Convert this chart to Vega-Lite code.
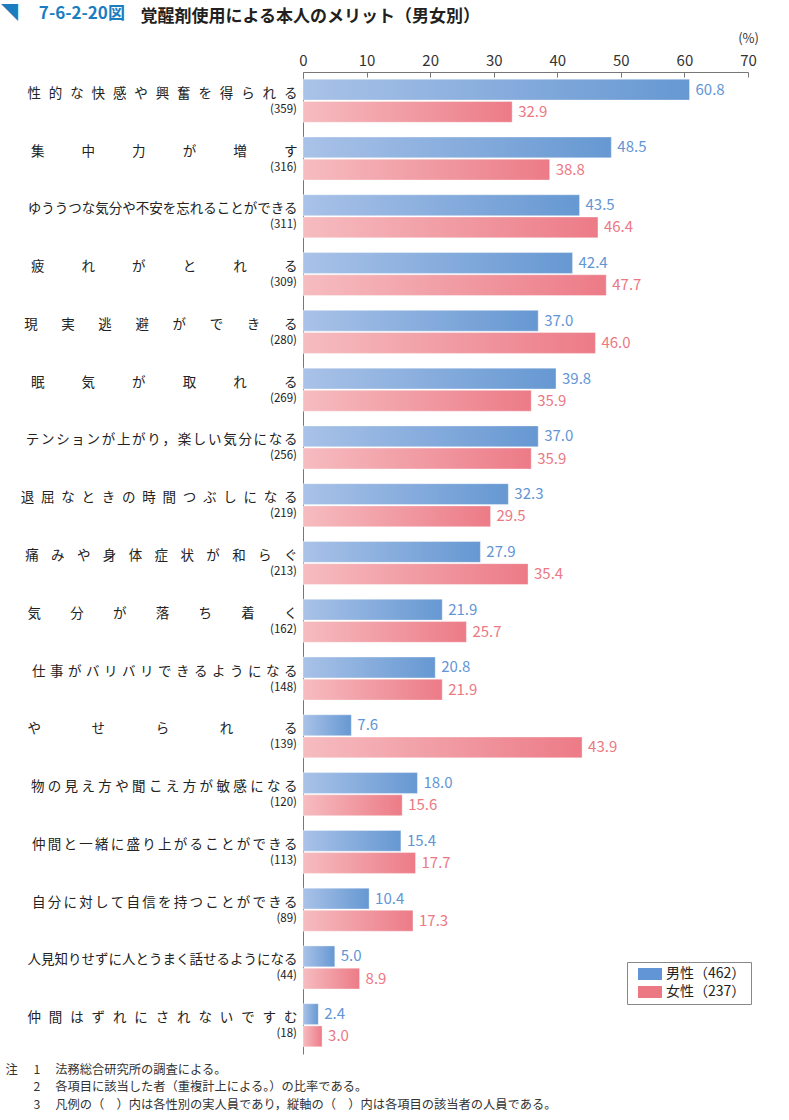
{
  "$schema": "https://vega.github.io/schema/vega-lite/v6.json",
  "width": 445,
  "height": 982,
  "autosize": {"type": "none"},
  "padding": {"left": 303, "top": 72, "right": 41, "bottom": 66},
  "background": "white",
  "config": {
    "view": {"stroke": null},
    "font": "Noto Sans CJK JP",
    "axisY": {
      "ticks": false, "domain": true, "domainColor": "#777777", "domainWidth": 1,
      "labelPadding": 6, "labelLimit": 400, "labelOffset": -7,
      "labelFontSize": 13.5, "labelColor": "#222222", "labelFont": "Noto Sans CJK JP",
      "grid": false
    }
  },
  "title": {
    "text": "◥\u3000 7-6-2-20図",
    "anchor": "start",
    "frame": "group",
    "color": "#1a7dc0",
    "fontSize": 17,
    "fontWeight": "bold",
    "font": "Noto Sans CJK JP",
    "dx": -302,
    "dy": 16,
    "offset": 0
  },
  "data": {
    "values": [
      {"item": "性的な快感や興奮を得られる", "n": 359, "sex": "男性（462）", "pct": 60.8},
      {"item": "性的な快感や興奮を得られる", "n": 359, "sex": "女性（237）", "pct": 32.9},
      {"item": "集中力が増す", "n": 316, "sex": "男性（462）", "pct": 48.5},
      {"item": "集中力が増す", "n": 316, "sex": "女性（237）", "pct": 38.8},
      {"item": "ゆううつな気分や不安を忘れることができる", "n": 311, "sex": "男性（462）", "pct": 43.5},
      {"item": "ゆううつな気分や不安を忘れることができる", "n": 311, "sex": "女性（237）", "pct": 46.4},
      {"item": "疲れがとれる", "n": 309, "sex": "男性（462）", "pct": 42.4},
      {"item": "疲れがとれる", "n": 309, "sex": "女性（237）", "pct": 47.7},
      {"item": "現実逃避ができる", "n": 280, "sex": "男性（462）", "pct": 37.0},
      {"item": "現実逃避ができる", "n": 280, "sex": "女性（237）", "pct": 46.0},
      {"item": "眠気が取れる", "n": 269, "sex": "男性（462）", "pct": 39.8},
      {"item": "眠気が取れる", "n": 269, "sex": "女性（237）", "pct": 35.9},
      {"item": "テンションが上がり，楽しい気分になる", "n": 256, "sex": "男性（462）", "pct": 37.0},
      {"item": "テンションが上がり，楽しい気分になる", "n": 256, "sex": "女性（237）", "pct": 35.9},
      {"item": "退屈なときの時間つぶしになる", "n": 219, "sex": "男性（462）", "pct": 32.3},
      {"item": "退屈なときの時間つぶしになる", "n": 219, "sex": "女性（237）", "pct": 29.5},
      {"item": "痛みや身体症状が和らぐ", "n": 213, "sex": "男性（462）", "pct": 27.9},
      {"item": "痛みや身体症状が和らぐ", "n": 213, "sex": "女性（237）", "pct": 35.4},
      {"item": "気分が落ち着く", "n": 162, "sex": "男性（462）", "pct": 21.9},
      {"item": "気分が落ち着く", "n": 162, "sex": "女性（237）", "pct": 25.7},
      {"item": "仕事がバリバリできるようになる", "n": 148, "sex": "男性（462）", "pct": 20.8},
      {"item": "仕事がバリバリできるようになる", "n": 148, "sex": "女性（237）", "pct": 21.9},
      {"item": "やせられる", "n": 139, "sex": "男性（462）", "pct": 7.6},
      {"item": "やせられる", "n": 139, "sex": "女性（237）", "pct": 43.9},
      {"item": "物の見え方や聞こえ方が敏感になる", "n": 120, "sex": "男性（462）", "pct": 18.0},
      {"item": "物の見え方や聞こえ方が敏感になる", "n": 120, "sex": "女性（237）", "pct": 15.6},
      {"item": "仲間と一緒に盛り上がることができる", "n": 113, "sex": "男性（462）", "pct": 15.4},
      {"item": "仲間と一緒に盛り上がることができる", "n": 113, "sex": "女性（237）", "pct": 17.7},
      {"item": "自分に対して自信を持つことができる", "n": 89, "sex": "男性（462）", "pct": 10.4},
      {"item": "自分に対して自信を持つことができる", "n": 89, "sex": "女性（237）", "pct": 17.3},
      {"item": "人見知りせずに人とうまく話せるようになる", "n": 44, "sex": "男性（462）", "pct": 5.0},
      {"item": "人見知りせずに人とうまく話せるようになる", "n": 44, "sex": "女性（237）", "pct": 8.9},
      {"item": "仲間はずれにされないですむ", "n": 18, "sex": "男性（462）", "pct": 2.4},
      {"item": "仲間はずれにされないですむ", "n": 18, "sex": "女性（237）", "pct": 3.0}
    ]
  },
  "resolve": {"axis": {"x": "independent"}},
  "layer": [
    {
      "transform": [{"filter": "datum.sex == '男性（462）'"}],
      "mark": {
        "type": "bar", "stroke": "#ffffff", "strokeWidth": 0.6, "strokeOpacity": 0.6,
        "color": {"gradient": "linear", "x1": 0, "y1": 0, "x2": 1, "y2": 0, "stops": [{"offset": 0, "color": "#a9c2e8"}, {"offset": 1, "color": "#6698d2"}]}
      },
      "encoding": {
        "y": {
          "field": "item", "type": "nominal", "sort": null,
          "scale": {"paddingInner": 0.255, "paddingOuter": 0.125},
          "axis": {
            "title": "覚醒剤使用による本人のメリット（男女別）",
            "titleAngle": 0, "titleX": -163, "titleY": -51,
            "titleAlign": "left", "titleBaseline": "alphabetic",
            "titleFontSize": 17, "titleFontWeight": "bold", "titleColor": "#231f20",
            "titleFont": "Noto Sans CJK JP", "titleLimit": 600,
            "labelExpr": "join(split(datum.label, ''), length(datum.label) == 5 ? '\u3000\u3000\u3000\u2002\u2005' : length(datum.label) == 6 ? '\u3000\u3000\u2002\u2005' : length(datum.label) == 7 ? '\u3000\u3000\u2006' : length(datum.label) == 8 ? '\u3000\u2002\u2005' : length(datum.label) == 11 ? '\u2002\u2005\u2006' : length(datum.label) == 13 ? '\u2005\u2004' : length(datum.label) == 14 ? '\u2002' : length(datum.label) == 15 ? '\u2004' : length(datum.label) == 16 ? '\u2005' : length(datum.label) == 17 ? '\u2006' : length(datum.label) == 18 ? '\u200A\u200A' : '')"
          }
        },
        "yOffset": {"field": "sex", "type": "nominal", "sort": ["男性（462）", "女性（237）"], "scale": {"domain": ["男性（462）", "女性（237）"], "paddingInner": 0.06}},
        "x": {
          "field": "pct", "type": "quantitative",
          "scale": {"domain": [0, 70], "nice": false},
          "axis": {
            "orient": "top", "values": [0, 10, 20, 30, 40, 50, 60, 70],
            "grid": false, "domainColor": "#777777", "tickColor": "#777777",
            "tickSize": -5, "labelPadding": 9, "labelFontSize": 15, "labelColor": "#333333",
            "labelFont": "Noto Sans CJK JP", "labelFlush": false,
            "title": "(%)", "titleX": 445, "titleY": -30, "titleAlign": "center",
            "titleBaseline": "alphabetic", "titleFontSize": 13, "titleFontWeight": "normal",
            "titleColor": "#333333", "titleFont": "Noto Sans CJK JP"
          }
        }
      }
    },
    {
      "transform": [{"filter": "datum.sex == '女性（237）'"}],
      "mark": {
        "type": "bar", "stroke": "#ffffff", "strokeWidth": 0.6, "strokeOpacity": 0.6,
        "color": {"gradient": "linear", "x1": 0, "y1": 0, "x2": 1, "y2": 0, "stops": [{"offset": 0, "color": "#f6bcc0"}, {"offset": 1, "color": "#ec7b87"}]}
      },
      "encoding": {
        "y": {"field": "item", "type": "nominal", "sort": null},
        "yOffset": {"field": "sex", "type": "nominal", "sort": ["男性（462）", "女性（237）"]},
        "x": {"field": "pct", "type": "quantitative", "axis": null}
      }
    },
    {
      "mark": {"type": "text", "align": "left", "baseline": "middle", "dx": 6, "fontSize": 15, "font": "Noto Sans CJK JP"},
      "encoding": {
        "y": {"field": "item", "type": "nominal", "sort": null},
        "yOffset": {"field": "sex", "type": "nominal", "sort": ["男性（462）", "女性（237）"]},
        "x": {
          "field": "pct", "type": "quantitative",
          "axis": {
            "orient": "bottom", "domain": false, "ticks": false, "labels": false, "grid": false,
            "title": "注", "titleX": -298, "titleY": 19, "titleAlign": "left", "titleAnchor": "start",
            "titleBaseline": "alphabetic", "titleFontSize": 12.25, "titleFontWeight": "normal",
            "titleColor": "#333333", "titleFont": "Noto Sans CJK JP"
          }
        },
        "text": {"field": "pct", "type": "quantitative", "format": ".1f"},
        "fill": {
          "field": "sex", "type": "nominal",
          "scale": {"domain": ["男性（462）", "女性（237）"], "range": ["#6195d6", "#ec7884"]},
          "legend": {
            "orient": "none", "legendX": 324, "legendY": 890, "direction": "vertical",
            "title": null, "padding": 5, "strokeColor": "#888888", "fillColor": "#ffffff",
            "symbolType": "M-2,-1H2V1H-2Z", "symbolSize": 144, "symbolStrokeWidth": 0,
            "symbolOffset": 11, "labelOffset": 9, "rowPadding": 4,
            "labelFontSize": 14, "labelFont": "Noto Sans CJK JP", "labelColor": "#222222",
            "labelLimit": 300
          }
        }
      }
    },
    {
      "transform": [
        {"filter": "datum.sex == '男性（462）'"},
        {"calculate": "'(' + datum.n + ')'", "as": "nlab"}
      ],
      "mark": {"type": "text", "align": "right", "baseline": "middle", "dx": -6, "dy": 9, "fontSize": 11.5, "color": "#222222", "font": "Noto Sans CJK JP"},
      "encoding": {
        "y": {"field": "item", "type": "nominal", "sort": null},
        "x": {
          "datum": 0, "type": "quantitative",
          "axis": {
            "orient": "bottom", "domain": false, "ticks": false, "labels": false, "grid": false,
            "title": ["1\u3000 法務総合研究所の調査による。", "2\u3000 各項目に該当した者（重複計上による。）の比率である。", "3\u3000 凡例の（\u3000）内は各性別の実人員であり，縦軸の（\u3000）内は各項目の該当者の人員である。"],
            "titleX": -270, "titleY": 19, "titleAlign": "left", "titleAnchor": "start",
            "titleBaseline": "alphabetic", "titleFontSize": 12.25, "titleFontWeight": "normal",
            "titleLineHeight": 17.5, "titleColor": "#333333", "titleLimit": 800,
            "titleFont": "Noto Sans CJK JP"
          }
        },
        "text": {"field": "nlab", "type": "nominal"}
      }
    }
  ]
}
